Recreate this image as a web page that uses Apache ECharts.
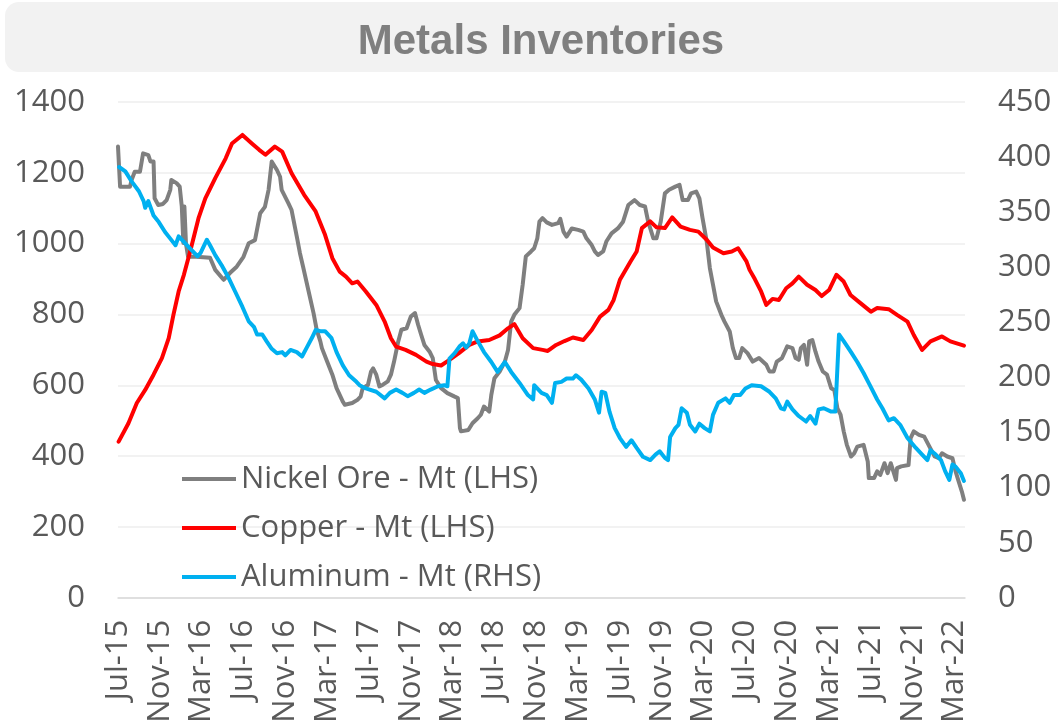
<!DOCTYPE html>
<html>
<head>
<meta charset="utf-8">
<title>Metals Inventories</title>
<script src="https://cdn.jsdelivr.net/npm/echarts@6/dist/echarts.min.js"></script>
<style>
  html, body { margin: 0; padding: 0; background: #ffffff; }
  #chart { width: 1058px; height: 726px; }
</style>
</head>
<body>
<div id="chart"></div>
<script>
// x values are months counted from July 2015 (0 = Jul-15)
const monthLabels = ['Jul-15','Nov-15','Mar-16','Jul-16','Nov-16','Mar-17','Jul-17','Nov-17',
  'Mar-18','Jul-18','Nov-18','Mar-19','Jul-19','Nov-19','Mar-20','Jul-20','Nov-20',
  'Mar-21','Jul-21','Nov-21','Mar-22'];

const seriesNames = ['Nickel Ore - Mt (LHS)', 'Copper - Mt (LHS)', 'Aluminum - Mt (RHS)'];

// Nickel ore port stocks, Mt (left axis)
const nickelOre = [
  [0,1274],[0.2,1161],[1.15,1161],[1.3,1180],[1.6,1203],[2.1,1203],[2.4,1255],[2.9,1250],[3.1,1232],[3.4,1232],
  [3.5,1128],[3.85,1109],[4.3,1112],[4.65,1123],[5.0,1152],[5.1,1180],[5.6,1171],[5.9,1161],[6.1,1105],[6.25,1002],
  [6.35,1105],[6.5,1000],[6.7,963],[7.5,963],[8.8,960],[9.3,926],[10.1,898],[10.7,917],[11.35,935],[12.0,963],
  [12.5,1001],[13.1,1010],[13.6,1086],[14.05,1104],[14.4,1152],[14.7,1232],[15.2,1208],[15.5,1189],[15.65,1152],[16.3,1114],
  [16.6,1095],[17.1,1020],[17.4,973],[17.7,935],[18.2,869],[18.7,804],[19.0,757],[19.35,724],[19.5,705],[20.0,667],
  [20.5,630],[20.9,592],[21.5,554],[21.7,545],[22.4,550],[22.9,559],[23.2,568],[23.4,592],[23.9,601],[24.2,639],
  [24.4,648],[24.7,630],[25.0,597],[25.3,601],[25.8,611],[26.1,630],[26.4,667],[26.8,724],[27.1,757],[27.6,761],
  [28.0,794],[28.4,804],[28.7,771],[29.0,742],[29.3,714],[29.8,695],[30.1,677],[30.4,615],[30.9,592],[31.5,578],
  [32.2,568],[32.5,564],[32.7,479],[32.8,470],[33.5,474],[33.9,493],[34.4,507],[34.7,517],[35.0,540],[35.5,526],
  [35.7,573],[36.0,620],[36.5,639],[37.0,667],[37.3,700],[37.6,780],[37.9,799],[38.4,818],[38.7,884],[39.0,964],
  [39.5,978],[39.8,987],[40.1,1015],[40.3,1062],[40.6,1072],[41.0,1060],[41.5,1053],[42.1,1058],[42.3,1070],[42.6,1034],
  [42.9,1020],[43.4,1043],[44.0,1039],[44.5,1034],[44.8,1015],[45.3,996],[45.6,978],[45.9,968],[46.4,978],[46.7,1006],
  [47.2,1029],[47.8,1043],[48.3,1062],[48.8,1109],[49.4,1123],[49.9,1109],[50.4,1105],[50.7,1062],[51.2,1015],[51.5,1015],
  [51.9,1062],[52.3,1142],[52.7,1152],[53.3,1161],[53.7,1166],[54.0,1123],[54.5,1123],[54.8,1142],[55.3,1147],[55.6,1128],
  [55.9,1072],[56.3,1006],[56.6,931],[56.9,884],[57.2,837],[57.7,799],[58.0,780],[58.5,752],[58.8,705],[59.1,677],
  [59.4,677],[59.7,705],[60.2,691],[60.7,667],[61.3,677],[62.0,658],[62.3,639],[62.7,639],[63.0,667],[63.5,677],
  [64.0,710],[64.5,705],[64.8,677],[65.1,672],[65.3,705],[65.6,714],[65.9,658],[66.1,724],[66.4,728],[66.7,695],
  [67.0,667],[67.4,639],[67.8,630],[68.2,592],[68.5,587],[68.8,535],[69.1,517],[69.4,470],[69.7,432],[70.1,399],
  [70.4,408],[70.7,427],[71.3,432],[71.7,385],[71.8,338],[72.3,338],[72.6,357],[72.9,347],[73.3,380],[73.6,352],
  [73.9,380],[74.4,333],[74.5,366],[74.9,371],[75.6,375],[75.8,451],[76.1,470],[76.6,460],[77.1,455],[77.6,427],
  [78.1,399],[78.5,394],[78.8,408],[79.3,399],[79.8,394],[80.1,357],[80.4,328],[80.7,300],[80.9,277]
];

// Copper stocks, Mt (left axis)
const copper = [
  [0.06,441],[1.0,493],[1.8,550],[2.6,587],[3.4,630],[4.2,677],[4.85,733],[5.3,799],[5.8,865],[6.3,912],
  [6.9,978],[7.7,1072],[8.35,1128],[9.3,1185],[10.3,1241],[10.9,1283],[11.9,1307],[12.8,1283],[13.5,1265],[14.1,1251],
  [15.0,1274],[15.7,1260],[16.6,1199],[17.8,1138],[18.9,1091],[19.8,1025],[20.5,959],[21.2,921],[21.8,907],[22.4,888],
  [22.9,893],[23.7,865],[24.7,827],[25.5,780],[26.1,733],[26.6,709],[27.5,700],[28.5,686],[29.5,667],[30.1,660],
  [30.9,656],[31.7,672],[32.6,691],[33.6,714],[34.4,724],[35.5,728],[36.5,741],[37.3,761],[37.9,773],[38.7,733],
  [39.7,705],[40.6,700],[41.1,697],[41.9,714],[42.7,725],[43.5,735],[44.5,728],[45.3,756],[46.1,794],[46.9,813],
  [47.4,841],[48.0,898],[49.0,949],[49.6,978],[50.1,1044],[50.9,1063],[51.5,1046],[52.3,1044],[53.0,1074],[53.8,1048],
  [54.7,1039],[55.5,1034],[56.3,1011],[56.9,989],[57.9,973],[58.7,978],[59.3,987],[60.1,950],[60.4,926],[60.9,900],
  [61.5,865],[62.0,827],[62.6,844],[63.2,841],[63.9,874],[64.5,888],[65.1,907],[65.9,884],[66.7,869],[67.3,852],
  [68.0,869],[68.7,912],[69.4,893],[70.05,855],[71.0,832],[72.0,808],[72.6,818],[73.7,815],[74.5,799],[75.5,780],
  [76.1,742],[76.9,700],[77.7,724],[78.8,738],[79.6,724],[80.9,712]
];

// Aluminum stocks, Mt (right axis)
const aluminum = [
  [0.1,391],[0.7,387],[1.3,378],[2.0,369],[2.45,360],[2.6,354],[2.9,360],[3.4,347],[3.9,341],[4.5,332],
  [5.0,326],[5.5,320],[5.8,328],[6.3,323],[6.9,317],[7.6,310],[7.9,313],[8.5,325],[8.8,320],[9.3,311],
  [9.9,302],[10.6,290],[11.2,278],[11.9,264],[12.5,251],[13.0,246],[13.3,239],[13.8,239],[14.2,233],[14.7,226],
  [15.2,222],[15.7,223],[16.0,220],[16.5,225],[17.1,223],[17.6,219],[18.1,228],[18.55,236],[18.9,243],[19.35,242],
  [19.8,242],[20.4,236],[20.9,223],[21.5,211],[22.1,202],[22.8,196],[23.1,193],[23.7,190],[24.7,187],[25.5,181],
  [26.0,186],[26.6,189],[27.2,186],[27.7,183],[28.3,186],[28.8,189],[29.3,186],[29.9,189],[30.6,192],[31.2,193],
  [31.5,192],[31.7,217],[32.2,222],[32.65,228],[33.0,231],[33.3,227],[33.6,231],[33.9,242],[34.4,233],[35.0,223],
  [35.7,214],[36.3,205],[37.0,214],[37.6,205],[38.4,195],[39.2,184],[39.7,180],[39.8,193],[40.5,186],[41.0,184],
  [41.5,177],[41.8,195],[42.4,196],[42.9,199],[43.5,199],[43.8,202],[44.3,198],[45.0,190],[45.6,180],[46.0,168],
  [46.25,187],[46.6,186],[47.0,169],[47.5,154],[48.0,145],[48.6,137],[49.1,143],[49.6,136],[50.2,128],[50.9,125],
  [51.4,130],[51.8,133],[52.3,127],[52.6,125],[52.8,146],[53.3,154],[53.6,157],[53.9,172],[54.4,168],[54.7,157],
  [55.2,151],[55.6,158],[56.1,154],[56.6,151],[56.9,166],[57.4,177],[58.1,181],[58.5,177],[58.9,184],[59.5,184],
  [60.0,190],[60.6,193],[61.5,192],[62.3,187],[62.9,181],[63.4,172],[63.7,171],[64.0,178],[64.5,171],[65.1,165],
  [65.8,160],[66.2,165],[66.7,158],[67.0,171],[67.5,172],[68.2,169],[68.6,169],[68.95,239],[69.4,233],[70.1,223],
  [70.7,214],[71.3,204],[71.9,193],[72.6,180],[73.1,172],[73.7,161],[74.2,163],[74.8,157],[75.5,145],[76.3,136],
  [76.9,130],[77.4,125],[77.7,134],[78.2,130],[78.7,125],[79.1,115],[79.5,107],[79.8,121],[80.1,119],[80.6,113],
  [80.9,106]
];

const FONT = '"Open Sans", "Noto Sans", sans-serif';
const TEXT_GREY = '#595959';
const GRID_GREY = '#eeeeee';

const chart = echarts.init(document.getElementById('chart'), null, { renderer: 'canvas' });

function lineSeries(name, data, color, yAxisIndex) {
  return {
    name: name,
    type: 'line',
    data: data,
    yAxisIndex: yAxisIndex,
    showSymbol: false,
    symbol: 'none',
    lineStyle: { color: color, width: 4, join: 'round', cap: 'round' },
    itemStyle: { color: color },
    emphasis: { disabled: true }
  };
}

chart.setOption({
  animation: false,
  backgroundColor: '#ffffff',
  graphic: [{
    type: 'rect',
    z: -10,
    silent: true,
    shape: { x: 5, y: 2, width: 1100, height: 70, r: 14 },
    style: { fill: '#f2f2f2' }
  }],
  title: {
    text: 'Metals Inventories',
    left: 536,
    textAlign: 'center',
    top: 16,
    textStyle: {
      fontFamily: '"Liberation Sans", Arial, sans-serif',
      fontWeight: 'bold',
      fontSize: 42,
      color: '#7f7f7f'
    }
  },
  legend: {
    orient: 'vertical',
    left: 182,
    top: 459,
    padding: 0,
    icon: 'rect',
    itemWidth: 54,
    itemHeight: 4,
    itemGap: 9,
    data: seriesNames,
    selectedMode: false,
    textStyle: { fontFamily: FONT, fontSize: 31, color: TEXT_GREY, lineHeight: 40 }
  },
  grid: { left: 118, right: 93, top: 102, bottom: 128, containLabel: false },
  xAxis: {
    type: 'value',
    min: 0,
    max: 81,
    interval: 4,
    splitLine: { show: false },
    axisTick: { show: false },
    axisLine: { show: true, lineStyle: { color: '#d9d9d9', width: 1.5 } },
    axisLabel: {
      rotate: 90,
      margin: 22,
      fontFamily: FONT,
      fontSize: 31,
      color: TEXT_GREY,
      showMaxLabel: false,
      formatter: function (v) {
        const i = v / 4;
        return Number.isInteger(i) && i < monthLabels.length ? monthLabels[i] : '';
      }
    }
  },
  yAxis: [{
    type: 'value',
    min: 0,
    max: 1400,
    interval: 200,
    axisLine: { show: false },
    axisTick: { show: false },
    splitLine: { show: true, lineStyle: { color: GRID_GREY, width: 1.5 } },
    axisLabel: { margin: 33, fontFamily: FONT, fontSize: 31, color: TEXT_GREY, formatter: function (v) { return String(v); } }
  }, {
    type: 'value',
    min: 0,
    max: 450,
    interval: 50,
    position: 'right',
    axisLine: { show: false },
    axisTick: { show: false },
    splitLine: { show: false },
    axisLabel: { margin: 33, fontFamily: FONT, fontSize: 31, color: TEXT_GREY, formatter: function (v) { return String(v); } }
  }],
  series: [
    lineSeries(seriesNames[0], nickelOre, '#7f7f7f', 0),
    lineSeries(seriesNames[1], copper, '#ff0000', 0),
    lineSeries(seriesNames[2], aluminum, '#00b0f0', 1)
  ]
});
</script>
</body>
</html>
